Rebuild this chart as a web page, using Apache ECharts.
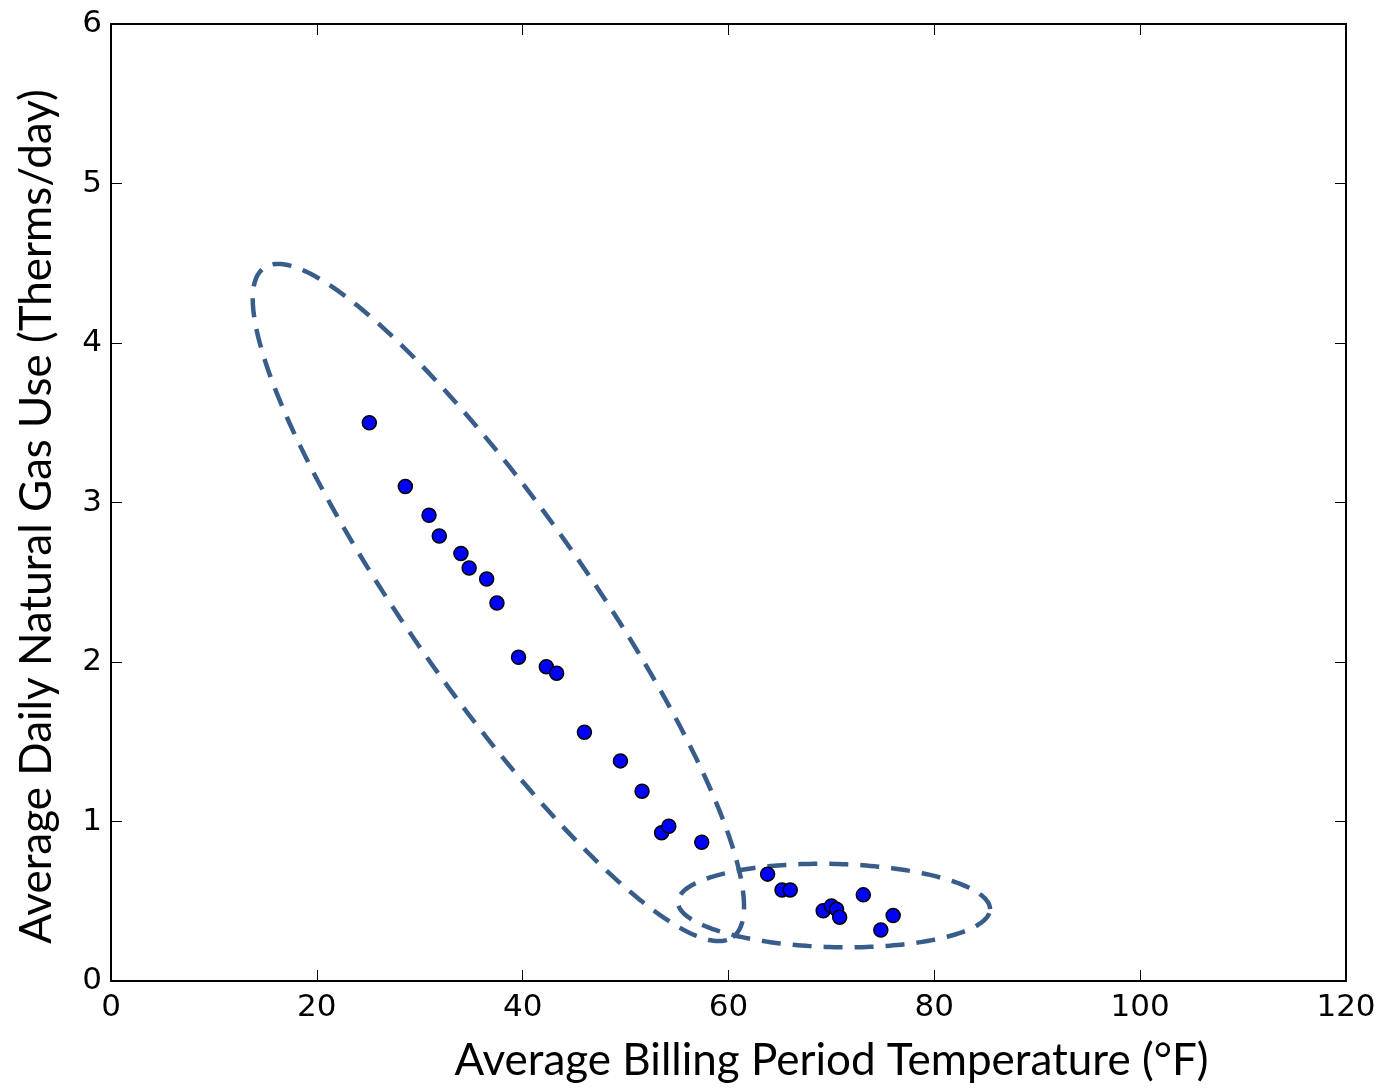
<!DOCTYPE html>
<html>
<head>
<meta charset="utf-8">
<script src="https://cdn.jsdelivr.net/npm/echarts@6/dist/echarts.min.js"></script>
<style>
  html, body { margin: 0; padding: 0; background: #fff; }
  #chart { width: 1382px; height: 1090px; }
</style>
</head>
<body>
<div id="chart"></div>
<script>
// ---- Data ----
const temperatureF = [25.1, 28.6, 30.9, 31.9, 34.0, 34.8, 36.5, 37.5, 39.6, 42.3, 43.3, 46.0, 49.5, 51.6, 53.5, 54.2, 57.4, 63.8, 65.2, 66.0, 69.2, 70.0, 70.5, 70.8, 73.1, 74.8, 76.0];
const thermsPerDay = [3.50, 3.10, 2.92, 2.79, 2.68, 2.59, 2.52, 2.37, 2.03, 1.97, 1.93, 1.56, 1.38, 1.19, 0.93, 0.97, 0.87, 0.67, 0.57, 0.57, 0.44, 0.47, 0.45, 0.40, 0.54, 0.32, 0.41];
const xTicks = [0, 20, 40, 60, 80, 100, 120];
const yTicks = [0, 1, 2, 3, 4, 5, 6];
const xTitle = 'Average Billing Period Temperature (°F)';
const yTitle = 'Average Daily Natural Gas Use (Therms/day)';

// Annotation ellipses (in data coordinates): centre, end of one semi-axis, end of the other
const ellipseCentres = [[37.64, 2.373], [70.25, 0.473]];
const ellipseAxisA = [[60.41, 0.275], [85.41, 0.451]];
const ellipseAxisB = [[44.80, 2.697], [70.25, 0.734]];

const points = temperatureF.map((t, i) => [t, thermsPerDay[i]]);

const tickFont = { fontFamily: 'DejaVu Sans', fontSize: 31, color: '#000' };
const titleFont = { fontFamily: 'Lato', fontSize: 44, color: '#000' };

function baseX(extra) {
  return Object.assign({
    type: 'value', min: xTicks[0], max: xTicks[xTicks.length - 1], interval: xTicks[1] - xTicks[0],
    axisLine: { show: true, onZero: false, lineStyle: { color: '#000', width: 2 } },
    axisTick: { show: true, inside: true, length: 11, lineStyle: { color: '#000', width: 1 } },
    splitLine: { show: false }
  }, extra);
}
function baseY(extra) {
  return Object.assign({
    type: 'value', min: yTicks[0], max: yTicks[yTicks.length - 1], interval: yTicks[1] - yTicks[0],
    axisLine: { show: true, onZero: false, lineStyle: { color: '#000', width: 2 } },
    axisTick: { show: true, inside: true, length: 11, lineStyle: { color: '#000', width: 1 } },
    splitLine: { show: false }
  }, extra);
}

const chart = echarts.init(document.getElementById('chart'), null, { renderer: 'canvas' });
chart.setOption({
  animation: false,
  backgroundColor: '#fff',
  grid: { left: 111, top: 24, right: 36, bottom: 109 },
  xAxis: [
    baseX({
      position: 'bottom',
      axisLabel: Object.assign({ margin: 11 }, tickFont),
      name: xTitle, nameLocation: 'middle', nameGap: 58,
      nameTextStyle: Object.assign({ padding: [0, 0, 0, 206] }, titleFont)
    }),
    baseX({ position: 'top', axisLabel: { show: false } })
  ],
  yAxis: [
    baseY({
      position: 'left',
      axisLabel: Object.assign({ margin: 9 }, tickFont),
      name: yTitle, nameLocation: 'middle', nameGap: 52,
      nameTextStyle: Object.assign({ padding: [0, 28, 0, 0] }, titleFont)
    }),
    baseY({ position: 'right', axisLabel: { show: false } })
  ],
  series: [
    {
      type: 'custom',
      xAxisIndex: 0, yAxisIndex: 0,
      silent: true, clip: false, z: 1,
      data: ellipseCentres,
      renderItem: function (params, api) {
        const i = params.dataIndex;
        const c = api.coord(ellipseCentres[i]);
        const a = api.coord(ellipseAxisA[i]);
        const b = api.coord(ellipseAxisB[i]);
        const ux = a[0] - c[0], uy = a[1] - c[1];
        const vx = b[0] - c[0], vy = b[1] - c[1];
        const pts = [];
        const n = 240;
        for (let k = 0; k < n; k++) {
          const t = (k / n) * Math.PI * 2;
          pts.push([c[0] + ux * Math.cos(t) + vx * Math.sin(t), c[1] + uy * Math.cos(t) + vy * Math.sin(t)]);
        }
        return {
          type: 'polygon',
          shape: { points: pts },
          style: { fill: 'none', stroke: '#385D8A', lineWidth: 4.5, lineDash: [19, 12] }
        };
      }
    },
    {
      type: 'scatter',
      xAxisIndex: 0, yAxisIndex: 0, z: 3,
      data: points,
      symbol: 'circle', symbolSize: 14,
      itemStyle: { color: '#0000FF', borderColor: '#000', borderWidth: 1.5, opacity: 1 }
    }
  ]
});
</script>
</body>
</html>
